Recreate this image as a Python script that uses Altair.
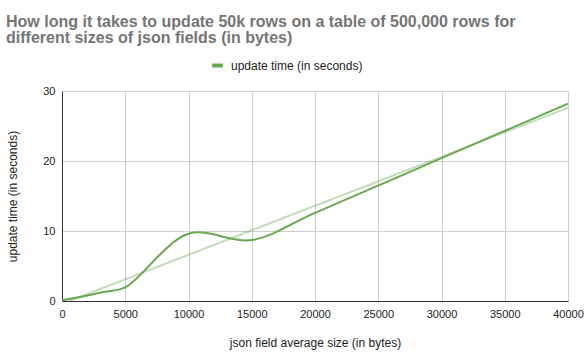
import altair as alt
import pandas as pd

# data
sizes = [0, 1500, 3500, 5000, 10000, 15000, 20000, 30000, 40000]
times = [0.1, 0.6, 1.35, 1.95, 9.6, 8.7, 12.6, 20.4, 28.2]
trend_x = [0, 40000]
trend_y = [-0.4, 27.6]
x_ticks = [0, 5000, 10000, 15000, 20000, 25000, 30000, 35000, 40000]
y_ticks = [0, 10, 20, 30]
series_name = "update time (in seconds)"
title_lines = [
    "How long it takes to update 50k rows on a table of 500,000 rows for",
    "different sizes of json fields (in bytes)",
]

GREEN = "#6aa84f"
FONT = "Liberation Sans"

df = pd.DataFrame({"size": sizes, "time": times, "series": [series_name] * len(sizes)})
tdf = pd.DataFrame({"size": trend_x, "time": trend_y})

x_enc = alt.X(
    "size:Q",
    scale=alt.Scale(domain=[0, 40000], nice=False, zero=False),
    axis=alt.Axis(
        values=x_ticks, format="d", labelFlush=False, ticks=False,
        domainColor="#333333", gridColor="#cccccc", labelFontSize=11,
        labelColor="#222222", labelPadding=7, labelFont=FONT,
        title="json field average size (in bytes)", titleFont=FONT,
        titleFontSize=12, titleFontWeight="normal", titleColor="#222222",
        titlePadding=18, labelOverlap=False,
    ),
)
y_enc = alt.Y(
    "time:Q",
    scale=alt.Scale(domain=[0, 30], nice=False),
    axis=alt.Axis(
        values=y_ticks, ticks=False, domainColor="#333333", gridColor="#cccccc",
        labelFontSize=11, labelColor="#222222", labelPadding=7, labelFont=FONT,
        title="update time (in seconds)", titleFont=FONT, titleFontSize=12,
        titleFontWeight="normal", titleColor="#222222", titlePadding=23,
    ),
)

trend = alt.Chart(tdf).mark_line(color=GREEN, opacity=0.4, strokeWidth=2, clip=True).encode(
    x=x_enc, y=y_enc
)

main = alt.Chart(df).mark_line(strokeWidth=2, interpolate="catmull-rom", clip=True).encode(
    x=x_enc,
    y=y_enc,
    color=alt.Color(
        "series:N",
        scale=alt.Scale(domain=[series_name], range=[GREEN]),
        legend=alt.Legend(
            title=None, orient="none", legendX=148, legendY=-33, padding=0,
            symbolType="stroke", symbolSize=115, symbolStrokeWidth=4,
            labelFontSize=12, labelFont=FONT, labelColor="#222222", labelOffset=6,
        ),
    ),
)

chart = (
    alt.layer(trend, main)
    .properties(
        width=506,
        height=210,
        autosize=alt.AutoSizeParams(type="none"),
        padding={"left": 62, "top": 91, "right": 18, "bottom": 53},
        title=alt.TitleParams(
            text=title_lines, anchor="start", frame="group", dx=-56, fontSize=16,
            fontWeight="bold", color="#757575", font=FONT, lineHeight=16,
            offset=12, baseline="top",
        ),
    )
    .configure_view(stroke=None)
)

chart.save("out.html", embed_options={"renderer": "svg", "actions": False})
